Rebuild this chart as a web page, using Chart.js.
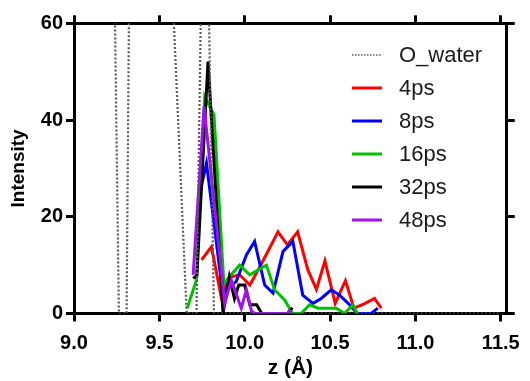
<!DOCTYPE html>
<html>
<head>
<meta charset="utf-8">
<script src="https://cdn.jsdelivr.net/npm/chart.js@4/dist/chart.umd.min.js"></script>
<style>
  html, body { margin: 0; padding: 0; background: #fff; }
  #wrap { width: 530px; height: 381px; position: relative; }
</style>
</head>
<body>
<div id="wrap"><canvas id="profile"></canvas></div>
<script>
// z positions (Å) and intensities for each trace
var zWater = [9.0, 9.05, 9.1, 9.16, 9.21, 9.263, 9.308, 9.36, 9.41, 9.46, 9.5, 9.55, 9.66, 9.7175, 9.765, 9.82, 10.5, 11.5];
var iWater = [220, 260, 240, 200, 140, 0, 0, 230, 300, 280, 200, 88, 0, 0, 115, 0, 0, 0];

var z4 = [9.747, 9.805, 9.862, 9.91, 9.97, 10.03, 10.10, 10.195, 10.25, 10.31, 10.37, 10.42, 10.47, 10.53, 10.59, 10.64, 10.70, 10.76, 10.80];
var i4 = [11.1, 13.8, 3.5, 7.5, 8.0, 5.9, 10.4, 16.9, 14.2, 16.9, 9.0, 5.0, 10.9, 2.1, 6.8, 1.1, 2.0, 3.1, 1.1];

var z8 = [9.727, 9.776, 9.87, 9.91, 9.95, 10.01, 10.058, 10.117, 10.166, 10.224, 10.282, 10.34, 10.40, 10.448, 10.507, 10.556, 10.614, 10.66, 10.74, 10.78];
var i8 = [23.3, 31.1, 4.5, 5.5, 6.6, 12.1, 14.9, 5.9, 4.2, 12.8, 14.9, 3.8, 2.1, 3.1, 4.9, 3.8, 1.8, 0, 0, 1.1];

var z16 = [9.663, 9.717, 9.766, 9.795, 9.82, 9.878, 9.92, 9.97, 10.03, 10.077, 10.127, 10.175, 10.234, 10.28, 10.33, 10.38, 10.43, 10.48, 10.536, 10.585, 10.633, 10.66];
var i16 = [1.1, 6.9, 44.9, 42.8, 41.1, 6.1, 8.0, 10.0, 8.0, 9.0, 10.0, 4.9, 2.8, 0, 0, 1.8, 1.1, 1.1, 1.1, 0, 1.8, 0];

var z32 = [9.698, 9.72, 9.785, 9.873, 9.91, 9.94, 9.965, 10.0, 10.03, 10.07, 10.1, 10.25, 10.28];
var i32 = [7.3, 7.8, 52.1, 0, 7.6, 3.1, 5.9, 5.9, 1.8, 1.8, 0, 0, 1.2];

var z48 = [9.698, 9.762, 9.883, 9.922, 9.98, 10.01, 10.04, 10.06, 10.25, 10.27];
var i48 = [8.0, 42.8, 2.1, 6.9, 1.1, 4.9, 0.5, 0, 0, 0.8];

var seriesNames = ['O_water', '4ps', '8ps', '16ps', '32ps', '48ps'];
var zTicks = [9.0, 9.5, 10.0, 10.5, 11.0, 11.5];
var iTicks = [0, 20, 40, 60];

function pts(xs, ys) {
	return xs.map(function(x, k) { return { x: x, y: ys[k] }; });
}

Chart.defaults.font.family = "'Liberation Sans', Arial, sans-serif";
Chart.defaults.color = '#000';

// legend drawn inside the plot box, upper right
var boxLegend = {
	id: 'boxLegend',
	afterDraw: function(chart) {
		var ctx = chart.ctx;
		ctx.save();
		chart.data.datasets.forEach(function(ds, i) {
			var y = 55 + i * 33;
			ctx.beginPath();
			ctx.strokeStyle = ds.borderColor;
			ctx.lineWidth = ds.borderDash ? 1.5 : 3;
			ctx.setLineDash(ds.borderDash ? [1.5, 1.5] : []);
			ctx.moveTo(352, y);
			ctx.lineTo(382, y);
			ctx.stroke();
			ctx.setLineDash([]);
			ctx.fillStyle = '#1a1a1a';
			ctx.font = "22px 'Liberation Sans', Arial, sans-serif";
			ctx.textBaseline = 'middle';
			ctx.textAlign = 'left';
			ctx.fillText(ds.label, 399, y + 1);
		});
		ctx.restore();
	}
};

function axisLine(extra) {
	var base = {
		grid: { drawOnChartArea: false, drawTicks: true, tickLength: 8, color: '#000', lineWidth: 3 },
		border: { display: true, color: '#000', width: 3 }
	};
	return Object.assign(base, extra);
}

var ctx = document.getElementById('profile').getContext('2d');
var profileChart = new Chart(ctx, {
	type: 'line',
	data: {
		datasets: [
			{ label: seriesNames[0], data: pts(zWater, iWater), borderColor: '#5a5a5a', borderWidth: 2.2, borderDash: [2, 2], order: 0 },
			{ label: seriesNames[1], data: pts(z4, i4), borderColor: '#ff0000', borderWidth: 3, order: 5 },
			{ label: seriesNames[2], data: pts(z8, i8), borderColor: '#0000ff', borderWidth: 3, order: 4 },
			{ label: seriesNames[3], data: pts(z16, i16), borderColor: '#00c000', borderWidth: 3, order: 3 },
			{ label: seriesNames[4], data: pts(z32, i32), borderColor: '#000000', borderWidth: 3, order: 2 },
			{ label: seriesNames[5], data: pts(z48, i48), borderColor: '#a010f0', borderWidth: 3, order: 1 }
		]
	},
	options: {
		responsive: true,
		maintainAspectRatio: false,
		animation: false,
		layout: { padding: 0 },
		elements: {
			line: { tension: 0, borderJoinStyle: 'miter' },
			point: { radius: 0, hoverRadius: 0 }
		},
		plugins: {
			legend: { display: false },
			tooltip: { enabled: false }
		},
		scales: {
			x: axisLine({
				type: 'linear',
				position: 'bottom',
				min: 9.0,
				max: 11.535,
				afterBuildTicks: function(scale) {
					scale.ticks = zTicks.map(function(v) { return { value: v }; });
				},
				afterFit: function(scale) { scale.height = 67.5; },
				ticks: {
					padding: 10,
					font: { size: 20, weight: 'bold' },
					callback: function(v) { return Number(v).toFixed(1); }
				},
				title: {
					display: true,
					text: 'z (Å)',
					font: { size: 21, weight: 'bold' },
					padding: { top: 0, bottom: 0 }
				}
			}),
			x2: axisLine({
				type: 'linear',
				position: 'top',
				min: 9.0,
				max: 11.535,
				afterBuildTicks: function(scale) {
					scale.ticks = zTicks.map(function(v) { return { value: v }; });
				},
				afterFit: function(scale) { scale.height = 23.3; },
				ticks: { display: false }
			}),
			y: axisLine({
				type: 'linear',
				position: 'left',
				min: 0,
				max: 60,
				afterBuildTicks: function(scale) {
					scale.ticks = iTicks.map(function(v) { return { value: v }; });
				},
				afterFit: function(scale) { scale.width = 74; },
				ticks: {
					padding: 3,
					font: { size: 20, weight: 'bold' }
				},
				title: {
					display: true,
					text: 'Intensity',
					font: { size: 19, weight: 'bold' },
					padding: { top: 7, bottom: 0 }
				}
			}),
			y2: axisLine({
				type: 'linear',
				position: 'right',
				min: 0,
				max: 60,
				afterBuildTicks: function(scale) {
					scale.ticks = iTicks.map(function(v) { return { value: v }; });
				},
				afterFit: function(scale) { scale.width = 23; },
				ticks: { display: false }
			})
		}
	},
	plugins: [boxLegend]
});
</script>
</body>
</html>
